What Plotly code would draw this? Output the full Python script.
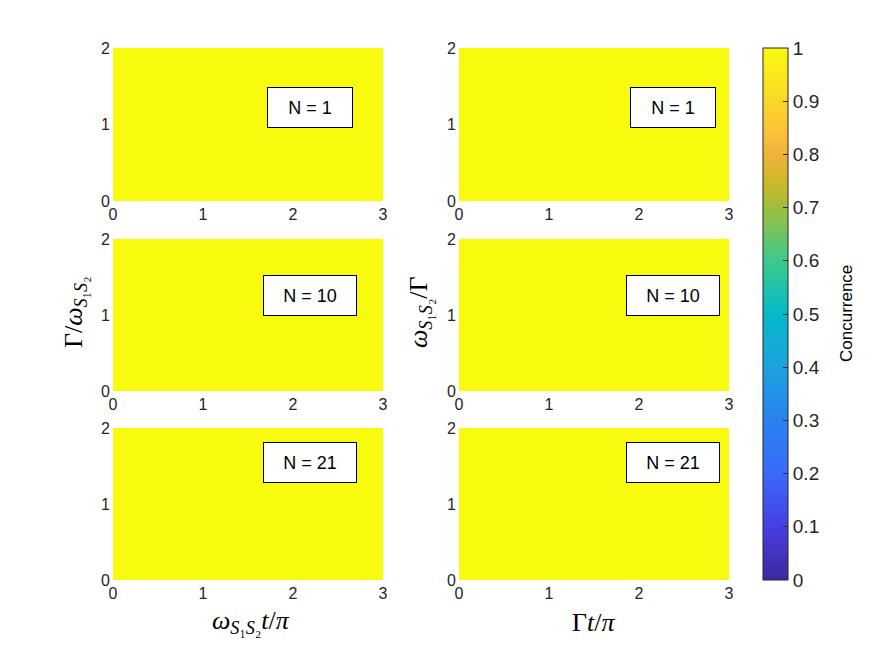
"""Concurrence heatmaps, 3 x 2 panels"""
import plotly.graph_objects as go
from plotly.subplots import make_subplots

# cell edges of each panel (time axis and ratio axis)
t_edges = [0, 1, 2, 3]
ratio_edges = [0, 1, 2]
x_ticks = [0, 1, 2, 3]
y_ticks = [0, 1, 2]
n_values = [1, 10, 21]

# concurrence: flat at 1 everywhere
conc_left_n1 = [[1, 1, 1], [1, 1, 1]]
conc_left_n10 = [[1, 1, 1], [1, 1, 1]]
conc_left_n21 = [[1, 1, 1], [1, 1, 1]]
conc_right_n1 = [[1, 1, 1], [1, 1, 1]]
conc_right_n10 = [[1, 1, 1], [1, 1, 1]]
conc_right_n21 = [[1, 1, 1], [1, 1, 1]]

cbar_ticks = [0, 0.1, 0.2, 0.3, 0.4, 0.5, 0.6, 0.7, 0.8, 0.9, 1]

# label box centres, in data units
box_x_left = [2.19, 2.19, 2.19]
box_x_right = [2.38, 2.38, 2.38]
box_y = [1.22, 1.26, 1.55]

PARULA = [
    [0.00, "rgb(60,40,160)"],
    [0.10, "rgb(72,62,226)"],
    [0.20, "rgb(58,106,250)"],
    [0.30, "rgb(42,130,240)"],
    [0.40, "rgb(28,162,222)"],
    [0.50, "rgb(5,185,200)"],
    [0.60, "rgb(60,202,140)"],
    [0.70, "rgb(160,190,60)"],
    [0.75, "rgb(205,185,40)"],
    [0.80, "rgb(240,178,60)"],
    [0.85, "rgb(253,196,55)"],
    [0.90, "rgb(250,215,40)"],
    [1.00, "rgb(249,251,14)"],
]

W, H = 875, 656
OFF = 8  # page body margin
TICK_FONT = dict(family="Liberation Sans, Arial", size=16, color="#262626")
MATH_FONT = dict(family="Liberation Serif, Times New Roman", size=26, color="#000000")


def px(x):
    return (x - OFF) / W


def py(y):
    return 1 - (y - OFF) / H


fig = make_subplots(rows=3, cols=2)

panels = [
    (1, 1, conc_left_n1), (1, 2, conc_right_n1),
    (2, 1, conc_left_n10), (2, 2, conc_right_n10),
    (3, 1, conc_left_n21), (3, 2, conc_right_n21),
]
for row, col, z in panels:
    fig.add_trace(go.Heatmap(
        x=t_edges, y=ratio_edges, z=z,
        coloraxis="coloraxis",
        hovertemplate="t=%{x}<br>y=%{y}<br>C=%{z}<extra></extra>",
    ), row=row, col=col)

# pixel boxes of the axes in the reference
col_px = [(113, 383), (459, 729)]
row_px = [(48, 201), (239, 391), (428, 580)]

for row in range(3):
    for col in range(2):
        idx = row * 2 + col + 1
        sfx = "" if idx == 1 else str(idx)
        x0, x1 = col_px[col]
        y0, y1 = row_px[row]
        fig.layout["xaxis" + sfx].update(
            domain=[px(x0), px(x1)], range=[0, 3], tickvals=x_ticks,
            showgrid=False, zeroline=False, showline=False, ticks="",
            tickfont=TICK_FONT, ticklabelstandoff=2,
        )
        fig.layout["yaxis" + sfx].update(
            domain=[py(y1), py(y0)], range=[0, 2], tickvals=y_ticks,
            showgrid=False, zeroline=False, showline=False, ticks="",
            tickfont=TICK_FONT, ticklabelstandoff=2,
        )

        bx = box_x_left[row] if col == 0 else box_x_right[row]
        fig.add_annotation(
            x=bx, y=box_y[row], xref="x" + sfx, yref="y" + sfx,
            text=f"N = {n_values[row]}", showarrow=False,
            font=dict(family="Liberation Sans, Arial", size=18, color="#000000"),
            bgcolor="white", bordercolor="#000000", borderwidth=1,
            width=92 if n_values[row] >= 10 else 84, height=39, borderpad=0,
        )

sub = "<sub><i>S</i>₁<i>S</i>₂</sub>"
axis_labels = [
    (px(75), py(312), f"Γ/<i>ω</i>{sub}", -90),
    (px(420), py(312), f"<i>ω</i>{sub}/Γ", -90),
    (px(251), py(622), f"<i>ω</i>{sub}<i>t</i>/<i>π</i>", 0),
    (px(594), py(622), "Γ<i>t</i>/<i>π</i>", 0),
]
for x, y, text, angle in axis_labels:
    fig.add_annotation(
        x=x, y=y, xref="paper", yref="paper", text=text, textangle=angle,
        showarrow=False, font=MATH_FONT, xanchor="center", yanchor="middle",
    )

# colour bar title, placed by hand to sit where MATLAB puts it
fig.add_annotation(
    x=px(846), y=py(314), xref="paper", yref="paper", text="Concurrence",
    textangle=-90, showarrow=False, xanchor="center", yanchor="middle",
    font=dict(family="Liberation Sans, Arial", size=17, color="#000000"),
)

fig.update_layout(
    width=W, height=H,
    margin=dict(l=0, r=0, t=0, b=0, autoexpand=False),
    paper_bgcolor="white", plot_bgcolor="white",
    coloraxis=dict(
        colorscale=PARULA, cmin=0, cmax=1,
        colorbar=dict(
            x=px(763), xanchor="left", xref="paper", xpad=0, ypad=0,
            y=py(314), yanchor="middle",
            len=532 / H, lenmode="fraction",
            thickness=25, thicknessmode="pixels",
            outlinecolor="#262626", outlinewidth=1,
            tickvals=cbar_ticks, ticks="inside", ticklen=5, tickcolor="#262626",
            tickfont=dict(family="Liberation Sans, Arial", size=19, color="#262626"),
        ),
    ),
)

fig.write_html("out.html")
